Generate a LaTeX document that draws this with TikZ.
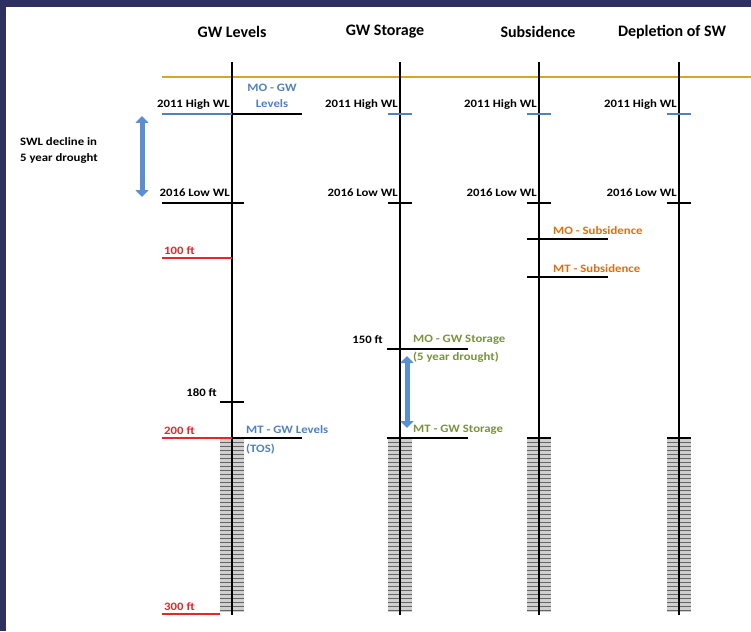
\documentclass[tikz,border=0pt]{standalone}
\usepackage{fontspec}
\setmainfont{Carlito}
\newfontfamily\widefont{Carlito}[FakeStretch=1.13]
\usetikzlibrary{arrows.meta}
\definecolor{navy}{HTML}{2E3160}
\definecolor{gold}{HTML}{D8A623}
\definecolor{wlblue}{HTML}{4F81BD}
\definecolor{arrblue}{HTML}{5A8FD2}
\definecolor{ftred}{HTML}{E8242C}
\definecolor{stgreen}{HTML}{77933C}
\definecolor{suborange}{HTML}{E46C0A}
\tikzset{
  ttl/.style={font=\fontsize{16}{19}\selectfont\bfseries, inner sep=0pt},
  lbl/.style={font=\widefont\fontsize{11.3}{16}\selectfont\bfseries, inner sep=1pt},
  axis/.style={line width=1.6pt, black},
  tick/.style={line width=1.4pt},
  updown/.style={arrblue, line width=5pt, {Triangle[length=7pt,width=13pt]}-{Triangle[length=7pt,width=13pt]}},
}
\begin{document}
\begin{tikzpicture}[x=1pt,y=-1pt]
  \useasboundingbox (0,0) rectangle (751,631);
  \fill[navy] (0,0) rectangle (751,7);
  \fill[navy] (0,0) rectangle (6,631);

  % column titles
  \node[ttl] (ttl-lev) at (232,32) {GW Levels};
  \node[ttl] (ttl-sto) at (385,32) {GW Storage};
  \node[ttl] (ttl-sub) at (538,32) {Subsidence};
  \node[ttl] (ttl-dep) at (672,32) {Depletion of SW};

  % ground line
  \coordinate (gnd-w) at (162,77);
  \coordinate (gnd-e) at (751,77);
  \draw[gold, line width=2pt] (gnd-w) -- (gnd-e);

  % hatched zone below 200 ft
  \foreach \x in {232,400,539,679} {
    \fill[gray!38] ({\x-12},438) rectangle ({\x+12},612);
    \foreach \y in {442,446,...,610}
      \draw[black!60, line width=0.5pt] ({\x-12},\y) -- ({\x+12},\y);
  }

  % axes with high and low water levels
  \foreach \x/\n in {232/lev,400/sto,539/sub,679/dep} {
    \coordinate (\n-top) at (\x,62);
    \coordinate (\n-bot) at (\x,615);
    \draw[axis] (\n-top) -- (\n-bot);
    \node[lbl, anchor=east] (\n-hi) at ({\x-1},104) {2011 High WL};
    \node[lbl, anchor=east] (\n-lo) at ({\x-1},193) {2016 Low WL};
    \draw[tick, wlblue] ({\x-12},114) -- ({\x+12},114);
    \draw[tick] ({\x-12},203) -- ({\x+12},203);
    \draw[line width=2pt] ({\x-12},438) -- ({\x+12},438);
  }

  % GW Levels
  \draw[tick, wlblue] (162,114) -- (lev-top |- 0,114);
  \draw[tick] (lev-top |- 0,114) -- (302,114);
  \node[lbl, wlblue, align=center] (mo-lev) at (272,96) {MO - GW\\Levels};
  \draw[tick] (162,203) -- (244,203);
  \draw[tick, ftred] (162,258) -- (lev-top |- 0,258);
  \node[lbl, ftred, anchor=south west] (ft-100) at (163,256) {100 ft};
  \node[lbl, anchor=east] (ft-180) at (218,393) {180 ft};
  \draw[tick] (220,402) -- (244,402);
  \draw[tick, ftred] (162,438) -- (lev-top |- 0,438);
  \node[lbl, ftred, anchor=south west] (ft-200) at (163,436) {200 ft};
  \draw[tick] (lev-top |- 0,438) -- (302,438);
  \node[lbl, wlblue, anchor=west] (mt-lev) at (245,430) {MT - GW Levels};
  \node[lbl, wlblue, anchor=west] (tos) at (245,449) {(TOS)};
  \draw[tick, ftred] (162,614) -- (220,614);
  \node[lbl, ftred, anchor=south west] (ft-300) at (163,612) {300 ft};

  % drought decline
  \coordinate (swl-hi) at (142,116);
  \coordinate (swl-lo) at (142,197);
  \draw[updown] (swl-hi) -- (swl-lo);
  \node[lbl, align=left, anchor=west] (swl) at (19,150) {SWL decline in\\5 year drought};

  % GW Storage
  \node[lbl, anchor=east] (ft-150) at (384,340) {150 ft};
  \draw[tick] (387,349) -- (468,349);
  \node[lbl, stgreen, anchor=west] (mo-sto) at (412,340) {MO - GW Storage};
  \node[lbl, stgreen, anchor=west] (drought) at (412,357) {(5 year drought)};
  \coordinate (sto-hi) at (407,356);
  \coordinate (sto-lo) at (407,428);
  \draw[updown] (sto-hi) -- (sto-lo);
  \node[lbl, stgreen, anchor=west] (mt-sto) at (412,430) {MT - GW Storage};
  \draw[tick] (387,438) -- (468,438);

  % Subsidence
  \node[lbl, suborange, anchor=west] (mo-sub) at (552,231) {MO - Subsidence};
  \draw[tick] (527,239) -- (608,239);
  \node[lbl, suborange, anchor=west] (mt-sub) at (552,269) {MT - Subsidence};
  \draw[tick] (527,277) -- (608,277);
\end{tikzpicture}
\end{document}
